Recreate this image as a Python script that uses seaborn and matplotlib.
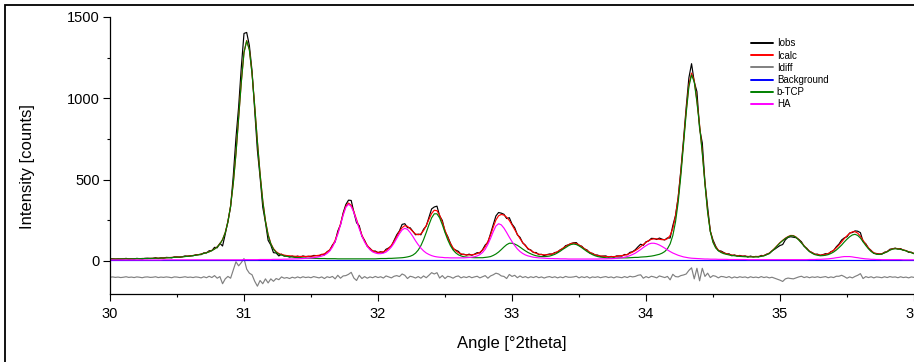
import numpy as np
import pandas as pd
import matplotlib
matplotlib.use("Agg")
import matplotlib.pyplot as plt
from matplotlib.ticker import MultipleLocator
from matplotlib.patches import Rectangle
import seaborn as sns

# ---- data (step 0.02 deg 2theta) ----
angle_start, angle_step, n_points = 30.0, 0.02, 301
angle = np.round(angle_start + angle_step * np.arange(n_points), 2)

iobs = [
    12, 14, 11, 13, 11, 13, 16, 12, 14, 12,
    16, 14, 12, 16, 17, 15, 16, 20, 15, 19,
    18, 22, 21, 19, 25, 25, 23, 26, 31, 29,
    32, 32, 38, 39, 39, 50, 49, 63, 63, 84,
    81, 109, 92, 165, 245, 333, 523, 756, 948, 1192,
    1399, 1405, 1325, 1168, 926, 680, 516, 331, 238, 127,
    98, 51, 49, 31, 42, 30, 31, 24, 30, 24,
    30, 24, 31, 26, 29, 27, 34, 33, 31, 41,
    37, 57, 67, 98, 117, 184, 222, 296, 347, 374,
    372, 299, 235, 217, 152, 127, 90, 78, 60, 61,
    51, 57, 52, 72, 80, 92, 127, 161, 185, 225,
    229, 205, 204, 183, 161, 165, 161, 195, 215, 268,
    320, 332, 337, 277, 249, 181, 151, 110, 75, 67,
    59, 40, 42, 36, 42, 35, 42, 51, 49, 69,
    98, 114, 168, 223, 277, 298, 294, 287, 261, 266,
    227, 205, 161, 145, 111, 97, 73, 68, 52, 52,
    39, 41, 33, 39, 43, 42, 52, 54, 69, 76,
    94, 99, 107, 112, 113, 95, 91, 74, 68, 49,
    47, 37, 36, 28, 30, 31, 24, 28, 23, 31,
    31, 30, 40, 38, 53, 57, 69, 87, 103, 96,
    118, 123, 139, 138, 132, 141, 134, 129, 142, 141,
    217, 279, 391, 558, 746, 945, 1126, 1213, 1101, 1041,
    814, 726, 484, 330, 183, 129, 91, 63, 61, 52,
    43, 44, 32, 37, 30, 34, 29, 31, 24, 30,
    25, 28, 25, 34, 32, 42, 45, 62, 72, 84,
    95, 101, 130, 145, 149, 146, 143, 133, 118, 90,
    78, 58, 52, 41, 42, 34, 39, 45, 43, 57,
    64, 87, 104, 129, 142, 149, 172, 175, 185, 183,
    174, 119, 106, 79, 65, 47, 46, 43, 42, 54,
    57, 72, 75, 79, 73, 76, 66, 64, 53, 54,
    45]

icalc = [
    12, 12, 12, 12, 13, 13, 13, 13, 13, 14,
    14, 14, 15, 15, 15, 16, 16, 17, 17, 18,
    19, 20, 21, 22, 23, 24, 25, 26, 28, 30,
    31, 34, 36, 39, 43, 47, 52, 57, 65, 74,
    87, 105, 132, 175, 240, 339, 478, 661, 878, 1102,
    1284, 1355, 1300, 1153, 951, 735, 536, 371, 248, 162,
    108, 76, 57, 46, 40, 36, 33, 32, 30, 29,
    28, 28, 28, 28, 28, 30, 30, 33, 35, 39,
    45, 54, 69, 93, 127, 172, 228, 288, 337, 356,
    342, 304, 255, 205, 160, 123, 96, 76, 63, 56,
    53, 54, 57, 64, 78, 96, 121, 151, 181, 205,
    217, 213, 198, 181, 166, 161, 167, 187, 218, 256,
    292, 312, 309, 282, 239, 189, 145, 108, 81, 63,
    51, 44, 39, 38, 37, 38, 40, 45, 53, 66,
    88, 120, 160, 208, 252, 278, 286, 282, 269, 249,
    222, 193, 164, 137, 113, 93, 77, 65, 54, 47,
    42, 39, 38, 38, 39, 44, 49, 58, 67, 79,
    89, 99, 107, 110, 107, 99, 88, 76, 64, 54,
    45, 38, 33, 31, 29, 27, 26, 26, 27, 28,
    31, 33, 36, 40, 47, 55, 64, 75, 88, 102,
    114, 126, 133, 136, 136, 133, 131, 131, 137, 157,
    199, 275, 389, 548, 732, 925, 1084, 1155, 1111, 986,
    836, 671, 479, 305, 185, 119, 85, 67, 56, 49,
    45, 40, 37, 35, 33, 31, 30, 29, 28, 27,
    27, 27, 28, 30, 34, 40, 49, 62, 78, 96,
    113, 127, 140, 150, 157, 156, 147, 131, 112, 92,
    75, 61, 50, 42, 39, 36, 38, 41, 46, 55,
    66, 81, 98, 117, 138, 155, 170, 179, 180, 171,
    152, 127, 102, 81, 62, 51, 44, 43, 45, 51,
    59, 68, 75, 77, 76, 73, 68, 63, 57, 52,
    46]

idiff = [
    -100, -98, -101, -99, -102, -100, -97, -101, -99, -102,
    -98, -100, -103, -99, -98, -101, -100, -97, -102, -99,
    -101, -98, -100, -103, -98, -99, -102, -100, -97, -101,
    -99, -102, -98, -100, -104, -97, -103, -94, -102, -90,
    -106, -96, -140, -110, -95, -106, -55, -5, -30, -10,
    15, -50, -75, -85, -125, -155, -120, -140, -110, -135,
    -110, -125, -108, -115, -98, -106, -102, -108, -100, -105,
    -98, -104, -97, -102, -99, -103, -96, -100, -104, -98,
    -108, -97, -102, -95, -110, -88, -106, -92, -90, -82,
    -70, -105, -120, -88, -108, -96, -106, -98, -103, -95,
    -102, -97, -105, -92, -98, -104, -94, -90, -96, -80,
    -88, -108, -94, -98, -105, -96, -106, -92, -103, -88,
    -72, -80, -72, -105, -90, -108, -94, -98, -106, -96,
    -92, -104, -97, -102, -95, -103, -98, -94, -104, -97,
    -90, -106, -92, -85, -75, -80, -92, -95, -108, -83,
    -95, -88, -103, -92, -102, -96, -104, -97, -102, -95,
    -103, -98, -105, -99, -96, -102, -97, -104, -98, -103,
    -95, -100, -100, -98, -94, -104, -97, -102, -96, -105,
    -98, -101, -97, -103, -99, -96, -102, -98, -104, -97,
    -100, -103, -96, -102, -94, -98, -95, -88, -85, -106,
    -96, -103, -94, -98, -104, -92, -97, -102, -95, -116,
    -82, -96, -98, -90, -86, -80, -58, -42, -110, -45,
    -122, -45, -95, -75, -102, -90, -94, -104, -95, -97,
    -102, -96, -105, -98, -103, -97, -101, -98, -104, -97,
    -102, -99, -103, -96, -102, -98, -104, -100, -106, -112,
    -118, -126, -110, -105, -108, -110, -104, -98, -94, -102,
    -97, -103, -98, -101, -97, -102, -99, -96, -103, -98,
    -102, -94, -94, -88, -96, -106, -98, -104, -95, -88,
    -78, -108, -96, -102, -97, -104, -98, -100, -103, -97,
    -102, -96, -100, -98, -103, -97, -102, -99, -104, -98,
    -101]

btcp = [
    12, 12, 12, 12, 13, 13, 13, 13, 13, 14,
    14, 14, 15, 15, 15, 16, 16, 17, 17, 18,
    18, 19, 20, 21, 22, 23, 24, 25, 27, 29,
    30, 33, 35, 38, 42, 46, 51, 56, 64, 73,
    86, 104, 131, 174, 239, 338, 477, 660, 877, 1101,
    1282, 1353, 1298, 1151, 949, 733, 533, 368, 245, 159,
    105, 72, 53, 42, 36, 31, 28, 26, 24, 22,
    21, 20, 19, 18, 17, 17, 16, 16, 15, 15,
    15, 14, 14, 14, 14, 13, 13, 13, 13, 13,
    13, 13, 13, 13, 13, 13, 13, 13, 13, 13,
    14, 15, 15, 15, 16, 16, 17, 18, 19, 20,
    22, 25, 29, 36, 48, 67, 94, 131, 175, 222,
    265, 290, 290, 265, 223, 175, 131, 95, 68, 50,
    38, 31, 26, 24, 22, 21, 20, 20, 20, 20,
    22, 24, 27, 34, 43, 55, 70, 86, 100, 109,
    109, 104, 96, 85, 73, 62, 52, 44, 37, 32,
    29, 27, 27, 28, 30, 35, 41, 50, 60, 72,
    82, 93, 101, 104, 101, 93, 82, 70, 58, 48,
    39, 32, 27, 24, 22, 20, 18, 18, 18, 18,
    19, 19, 19, 19, 20, 21, 22, 22, 24, 25,
    26, 28, 30, 33, 37, 41, 48, 58, 75, 105,
    156, 239, 360, 524, 713, 909, 1071, 1144, 1101, 977,
    828, 664, 473, 299, 180, 114, 80, 63, 52, 45,
    41, 37, 34, 32, 30, 28, 27, 26, 26, 25,
    25, 25, 26, 28, 32, 38, 47, 60, 76, 94,
    111, 125, 138, 148, 155, 154, 145, 129, 110, 90,
    73, 58, 47, 39, 35, 32, 33, 35, 39, 46,
    55, 67, 82, 98, 117, 134, 149, 160, 164, 157,
    141, 118, 95, 75, 58, 47, 41, 40, 43, 49,
    57, 66, 73, 75, 74, 71, 67, 62, 56, 51,
    45]

ha = [
    6, 6, 6, 6, 6, 6, 6, 6, 6, 6,
    6, 6, 6, 6, 6, 6, 6, 6, 6, 6,
    7, 7, 7, 7, 7, 7, 7, 7, 7, 7,
    7, 7, 7, 7, 7, 7, 7, 7, 7, 7,
    7, 7, 7, 7, 7, 7, 7, 7, 7, 7,
    8, 8, 8, 8, 8, 8, 9, 9, 9, 9,
    9, 10, 10, 10, 10, 11, 11, 12, 12, 13,
    13, 14, 15, 16, 17, 19, 20, 23, 26, 30,
    36, 46, 61, 85, 119, 165, 221, 281, 330, 349,
    335, 297, 248, 198, 153, 116, 89, 69, 56, 49,
    45, 45, 48, 55, 68, 86, 110, 139, 168, 191,
    201, 194, 175, 151, 124, 100, 79, 62, 49, 40,
    33, 28, 25, 23, 22, 20, 20, 19, 19, 19,
    19, 19, 19, 20, 21, 23, 26, 31, 39, 52,
    72, 102, 139, 180, 215, 229, 222, 202, 175, 146,
    119, 95, 74, 58, 46, 37, 31, 27, 23, 21,
    19, 18, 17, 16, 15, 15, 14, 14, 13, 13,
    13, 12, 12, 12, 12, 12, 12, 12, 12, 12,
    12, 12, 12, 13, 13, 13, 14, 14, 15, 16,
    18, 20, 23, 27, 33, 40, 48, 59, 70, 83,
    94, 104, 109, 109, 105, 98, 89, 79, 68, 58,
    49, 42, 35, 30, 25, 22, 19, 17, 16, 15,
    14, 13, 12, 12, 11, 11, 11, 10, 10, 10,
    10, 9, 9, 9, 9, 9, 9, 9, 8, 8,
    8, 8, 8, 8, 8, 8, 8, 8, 8, 8,
    8, 8, 8, 8, 8, 8, 8, 8, 8, 8,
    8, 9, 9, 9, 10, 10, 11, 12, 13, 15,
    17, 20, 22, 25, 27, 27, 27, 25, 22, 20,
    17, 15, 13, 12, 10, 10, 9, 9, 8, 8,
    8, 8, 8, 8, 8, 8, 7, 7, 7, 7,
    7]

background_angle = [30.0, 36.0]
background = [6, 6]

series_order = ["Iobs", "Icalc", "Idiff", "Background", "b-TCP", "HA"]
series_colors = {
    "Iobs": "#000000",
    "Icalc": "#ff0000",
    "Idiff": "#808080",
    "Background": "#0000ff",
    "b-TCP": "#008000",
    "HA": "#ff00ff",
}

frames = [
    pd.DataFrame({"angle": angle, "intensity": iobs, "series": "Iobs"}),
    pd.DataFrame({"angle": angle, "intensity": icalc, "series": "Icalc"}),
    pd.DataFrame({"angle": angle, "intensity": idiff, "series": "Idiff"}),
    pd.DataFrame({"angle": background_angle, "intensity": background, "series": "Background"}),
    pd.DataFrame({"angle": angle, "intensity": btcp, "series": "b-TCP"}),
    pd.DataFrame({"angle": angle, "intensity": ha, "series": "HA"}),
]
df = pd.concat(frames, ignore_index=True)

# ---- style ----
sns.set_style("ticks", rc={
    "axes.edgecolor": "black", "xtick.color": "black", "ytick.color": "black",
    "text.color": "black", "axes.labelcolor": "black",
})
plt.rcParams["font.family"] = ["Liberation Sans", "DejaVu Sans"]

W, H = 914, 362
fig = plt.figure(figsize=(W / 100, H / 100), dpi=100)
ax = fig.add_axes([110 / W, (H - 293.5) / H, 804 / W, 276.5 / H])

sns.lineplot(data=df, x="angle", y="intensity", hue="series", hue_order=series_order,
             palette=series_colors, estimator=None, sort=False, linewidth=0.85,
             legend=False, ax=ax)

ax.set_xlim(30, 36)
ax.set_ylim(-200, 1500)
ax.set_xticks([30, 31, 32, 33, 34, 35, 36])
ax.set_yticks([0, 500, 1000, 1500])
ax.xaxis.set_minor_locator(MultipleLocator(0.5))
ax.yaxis.set_minor_locator(MultipleLocator(250))
ax.tick_params(which="major", direction="out", length=5, width=0.8, labelsize=10.5)
ax.tick_params(axis="y", which="major", pad=2.5)
ax.tick_params(axis="x", which="major", pad=4.5)
ax.tick_params(which="minor", direction="out", length=2.5, width=0.8)
sns.despine(ax=ax)
for s in ("left", "bottom"):
    ax.spines[s].set_linewidth(0.9)

ax.set_xlabel("Angle [°2theta]", fontsize=12)
ax.set_ylabel("Intensity [counts]", fontsize=12)
ax.xaxis.set_label_coords(0.5, -0.155)
ax.yaxis.set_label_coords(-0.093, 0.46)

handles = ax.lines[:len(series_order)]
leg = ax.legend(handles=handles, labels=series_order, loc="upper left",
                bbox_to_anchor=(751 / W, 1 - 38.5 / H), bbox_transform=fig.transFigure,
                frameon=False, fontsize=7, handlelength=2.3, handletextpad=0.35,
                labelspacing=0.22, borderpad=0, borderaxespad=0)
for h in leg.get_lines():
    h.set_linewidth(1.4)

# outer frame of the original figure (left and top edges visible)
fig.patches.append(Rectangle((5 / W, -0.1), 2.0, (H - 5) / H + 0.1, transform=fig.transFigure,
                             fill=False, edgecolor="black", linewidth=1.3, zorder=10))

fig.savefig("out.png", dpi=100)
